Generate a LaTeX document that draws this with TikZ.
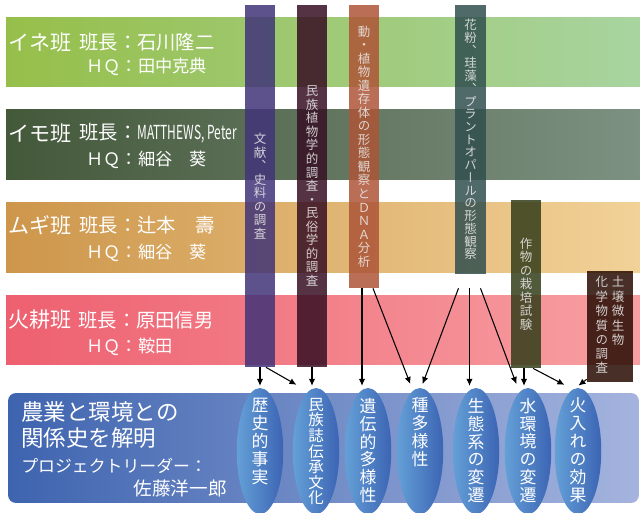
\documentclass[tikz,border=0pt]{standalone}
\usepackage{fontspec}
\setmainfont{Noto Sans CJK JP}
\newfontfamily\tate[RawFeature=+vert]{Noto Sans CJK JP}
\usetikzlibrary{calc,arrows.meta,shapes.geometric}

\definecolor{ineL}{RGB}{150,191,74}
\definecolor{ineR}{RGB}{168,212,160}
\definecolor{imoL}{RGB}{68,88,58}
\definecolor{imoR}{RGB}{125,145,130}
\definecolor{mugiL}{RGB}{205,150,75}
\definecolor{mugiR}{RGB}{242,210,152}
\definecolor{hikoL}{RGB}{238,96,112}
\definecolor{hikoR}{RGB}{247,160,163}
\definecolor{bunkenC}{RGB}{65,52,120}
\definecolor{minzokuC}{RGB}{55,15,35}
\definecolor{ibutsuC}{RGB}{173,85,55}
\definecolor{kafunC}{RGB}{49,79,79}
\definecolor{saibaiC}{RGB}{52,61,26}
\definecolor{dojoC}{RGB}{40,12,2}
\definecolor{themeL}{RGB}{62,100,175}
\definecolor{themeR}{RGB}{165,180,222}
\definecolor{resL}{RGB}{100,160,215}
\definecolor{resR}{RGB}{60,100,180}

\tikzset{
    band/.style={rectangle, minimum width=12.68cm, minimum height=1.4cm, inner sep=0},
    team/.style={anchor=west, inner sep=0, text=white, font=\fontsize{12}{13}\selectfont},
    leader/.style={anchor=west, inner sep=0, text=white, font=\fontsize{11}{12}\selectfont},
    hq/.style={anchor=west, inner sep=0, text=white, font=\fontsize{9.8}{11}\selectfont},
    colbox/.style={rectangle, minimum width=0.6cm, inner sep=0, fill opacity=0.85,
        text=white!92!black, align=center, font=\tate\fontsize{7.1}{7.7}\selectfont},
    result/.style={ellipse, minimum width=0.93cm, minimum height=2.52cm, inner sep=0,
        left color=resL, right color=resR},
    restext/.style={anchor=north, inner sep=0, text=white, align=center,
        font=\tate\fontsize{9.6}{10.2}\selectfont},
    link/.style={->, line width=0.6pt, shorten >=1pt},
    >={Latex[length=4pt,width=3.6pt]}
}

\begin{document}
\begin{tikzpicture}[x=0.02cm, y=-0.02cm]
    \useasboundingbox (0,0) rectangle (640,513);
    % Teams
    \node[band, left color=ineL, right color=ineR] (ine) at (323,52) {};
    \node[band, left color=imoL, right color=imoR] (imo) at (323,144.5) {};
    \node[band, left color=mugiL, right color=mugiR] (mugi) at (323,237.5) {};
    \node[band, left color=hikoL, right color=hikoR] (hiko) at (323,330) {};

    \node[team] (ine-name) at (8,42) {イネ班};
    \node[leader] (ine-lead) at (79,42) {班長：石川隆二};
    \node[hq] (ine-hq) at (86,67) {ＨＱ：田中克典};
    \node[team] (imo-name) at (8,133) {イモ班};
    \node[leader] (imo-lead) at (79,133) {班長：\scalebox{0.62}[1]{MATTHEWS, Peter}};
    \node[hq] (imo-hq) at (86,160) {ＨＱ：細谷　葵};
    \node[team] (mugi-name) at (8,225) {ムギ班};
    \node[leader] (mugi-lead) at (79,225) {班長：辻本　壽};
    \node[hq] (mugi-hq) at (86,253) {ＨＱ：細谷　葵};
    \node[team] (hiko-name) at (8,320) {火耕班};
    \node[leader] (hiko-lead) at (78,320) {班長：原田信男};
    \node[hq] (hiko-hq) at (86,347) {ＨＱ：鞍田};

    % Methods
    \node[colbox, fill=bunkenC, minimum height=7.24cm] (bunken) at (260,186)
        {文\\献\\、\\史\\料\\の\\調\\査};
    \node[colbox, fill=minzokuC, minimum height=7.24cm] (minzoku) at (312,186)
        {民\\族\\植\\物\\学\\的\\調\\査\\・\\民\\俗\\学\\的\\調\\査};
    \node[colbox, fill=ibutsuC, minimum height=5.66cm] (ibutsu) at (364,146.5)
        {動\\・\\植\\物\\遺\\存\\体\\の\\形\\態\\観\\察\\と\\Ｄ\\Ｎ\\Ａ\\分\\析};
    \node[colbox, fill=kafunC, minimum width=0.62cm, minimum height=5.38cm,
        font=\tate\fontsize{7.1}{7.25}\selectfont] (kafun) at (470.5,139.5)
        {花\\粉\\、\\珪\\藻\\、\\プ\\ラ\\ン\\ト\\オ\\パ\\ー\\ル\\の\\形\\態\\観\\察};
    \node[colbox, fill=saibaiC, minimum height=3.36cm] (saibai) at (526,284)
        {作\\物\\の\\栽\\培\\試\\験};
    \node[colbox, fill=dojoC, minimum width=0.92cm, minimum height=2.22cm,
        font=\tate\fontsize{7.1}{7.3}\selectfont] (dojo) at (610,326.5)
        {\begin{tabular}[t]{@{}c@{\hspace{2.2pt}}c@{}}
         化&土\\学&壌\\物&微\\質&生\\の&物\\調&\\査&
         \end{tabular}};

    % Theme
    \node[rectangle, rounded corners=4.5pt, minimum width=12.62cm, minimum height=2.2cm,
        inner sep=0, left color=themeL, right color=themeR] (theme) at (323.5,448) {};
    \node[anchor=west, inner sep=0, align=left, text=white,
        font=\fontsize{12.8}{14.5}\selectfont] (theme-t) at (21,425) {農業と環境との\\関係史を解明};
    \node[anchor=west, inner sep=0, text=white, font=\fontsize{9.6}{11}\selectfont]
        (pl) at (21,466) {プロジェクトリーダー：};
    \node[anchor=east, inner sep=0, text=white, font=\fontsize{10.6}{12}\selectfont]
        (pl-name) at (227,488) {佐藤洋一郎};

    % Results
    \foreach \name/\x/\txt in {rekishi/260/{歴\\史\\的\\事\\実},
                               iden/368/{遺\\伝\\的\\多\\様\\性},
                               shu/420/{種\\多\\様\\性},
                               seitai/476/{生\\態\\系\\の\\変\\遷},
                               mizu/528/{水\\環\\境\\の\\変\\遷},
                               hiire/578/{火\\入\\れ\\の\\効\\果}} {
        \node[result] (\name) at (\x,451) {};
        \node[restext] (\name-t) at ($(\name.north)+(0,10)$) {\txt};
    }
    \node[result] (minzokushi) at (316,451) {};
    \node[restext, font=\tate\fontsize{8.8}{8.9}\selectfont] (minzokushi-t)
        at ($(minzokushi.north)+(0,10)$) {民\\族\\誌\\伝\\承\\文\\化};

    % Arrows
    \draw[link] (bunken.south) -- (bunken.south |- rekishi.north);
    \draw[link] ($(bunken.south)+(6,0)$) -- ($(minzokushi.north)+(-18,-2)$);
    \draw[link] (minzoku.south) -- (minzoku.south |- minzokushi.north);
    \draw[link] ($(ibutsu.south)+(-2,0)$) -- ($(ibutsu.south |- iden.north)+(-2,0)$);
    \draw[link] ($(ibutsu.south)+(9,0)$) -- ($(shu.north)+(-9,-2)$);
    \draw[link] ($(kafun.south)+(-12,14)$) -- ($(shu.north)+(2,-2)$);
    \draw[link] ($(kafun.south)+(-1,14)$) -- ($(kafun.south |- seitai.north)+(-1,0)$);
    \draw[link] ($(kafun.south)+(10,14)$) -- ($(mizu.north)+(-11,-2)$);
    \draw[link] ($(saibai.south)+(-2,0)$) -- ($(saibai.south |- mizu.north)+(-2,0)$);
    \draw[link] ($(saibai.south)+(7,0)$) -- ($(hiire.north)+(-12,-2)$);
    \draw[link] ($(dojo.south west)+(0,-3)$) -- ($(hiire.north)+(-1,-1)$);
\end{tikzpicture}
\end{document}
